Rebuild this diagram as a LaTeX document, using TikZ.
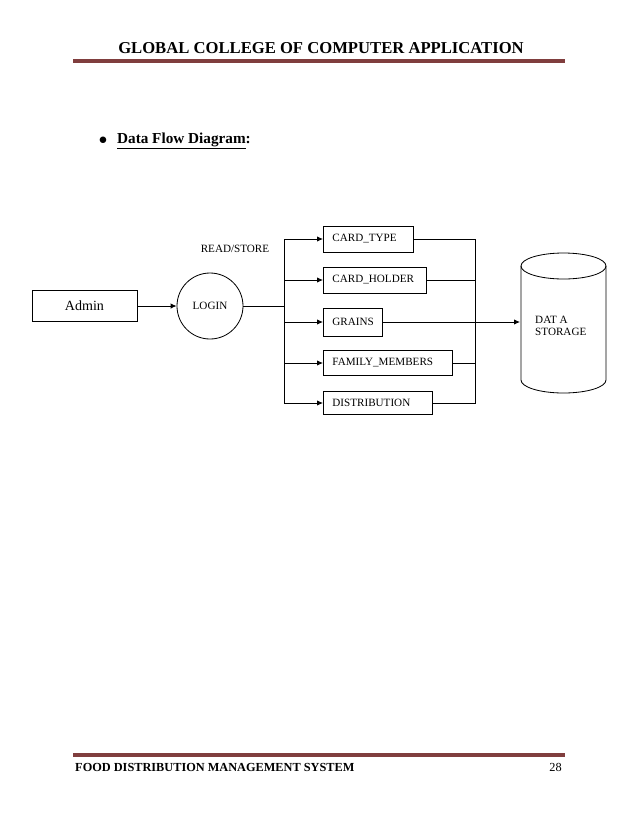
\documentclass[tikz,border=0pt]{standalone}
\usepackage{fontspec}
\setmainfont{Liberation Serif}
\usetikzlibrary{arrows.meta}
\definecolor{rulered}{RGB}{128,62,62}

\tikzset{
  entity/.style={draw,rectangle,line width=0.7pt,anchor=west,align=left,inner xsep=0.27cm,inner ysep=0pt,font=\fontsize{9.5}{11}\selectfont},
  flow/.style={-{Latex[length=5pt,width=4.5pt]},line width=0.7pt},
  link/.style={line width=0.7pt},
  small/.style={font=\fontsize{9.5}{10.5}\selectfont}
}

\begin{document}
\begin{tikzpicture}[x=0.03cm,y=-0.03cm]
\useasboundingbox (0,0) rectangle (638,826);

% Page header
\node[font=\bfseries\fontsize{14.2}{16}\selectfont] (header) at (321,48) {GLOBAL COLLEGE OF COMPUTER APPLICATION};
\draw[rulered,line width=2.8pt] (73,61) -- (565,61);

% Heading
\node[font=\fontsize{14}{16}\selectfont] (bullet) at (103,141) {$\bullet$};
\node[anchor=west,font=\bfseries\fontsize{13}{15}\selectfont] (dfd) at (113,141) {\underline{Data Flow Diagram}:};

% Admin and login
\node[draw,rectangle,line width=0.7pt,minimum width=3.15cm,minimum height=0.93cm,font=\fontsize{12}{14}\selectfont] (admin) at (84.5,306) {Admin};
\node[draw,circle,line width=0.7pt,minimum size=1.98cm,small] (login) at (210,306) {LOGIN};
\node[small] (rdst) at (235,249) {READ/STORE};

% Tables
\node[entity,text width=2.16cm,minimum height=0.78cm] (ctype) at (323,239) {CARD\_TYPE};
\node[entity,text width=2.55cm,minimum height=0.78cm] (cholder) at (323,280) {CARD\_HOLDER};
\node[entity,text width=1.23cm,minimum height=0.84cm] (grains) at (323,322) {GRAINS};
\node[entity,text width=3.33cm,minimum height=0.75cm] (fmembers) at (323,363) {FAMILY\_MEMBERS};
\node[entity,text width=2.73cm,minimum height=0.68cm] (distrib) at (323,403) {DISTRIBUTION};

% Data storage
\draw[link] (563.5,266) ellipse [x radius=1.275cm,y radius=0.39cm];
\draw[link] (521,266) -- (521,380) arc[start angle=180,end angle=360,x radius=1.275cm,y radius=0.39cm] -- (606,266);
\node[small,anchor=north west,align=left,inner sep=0pt] (store) at (535,316) {DAT A\\STORAGE};

% Arrows
\coordinate (lbus) at (284,306);
\coordinate (rbus) at (475,322);
\coordinate (dbin) at (520,322);
\draw[flow] (admin.east) -- (login.west);
\draw[link] (login.east) -- (lbus);
\foreach \t in {ctype,cholder,grains,fmembers,distrib}
  \draw[flow] (lbus) |- (\t.west);
\foreach \t in {ctype,cholder,fmembers,distrib}
  \draw[link] (\t.east) -| (rbus);
\draw[flow] (grains.east) -- (dbin);

% Page footer
\draw[rulered,line width=2.8pt] (73,755) -- (565,755);
\node[anchor=west,inner sep=0pt,font=\bfseries\fontsize{10.5}{12}\selectfont] (ftitle) at (75,767) {FOOD DISTRIBUTION MANAGEMENT SYSTEM};
\node[anchor=east,inner sep=0pt,font=\fontsize{10.5}{12}\selectfont] (pageno) at (562,767) {28};
\end{tikzpicture}
\end{document}
